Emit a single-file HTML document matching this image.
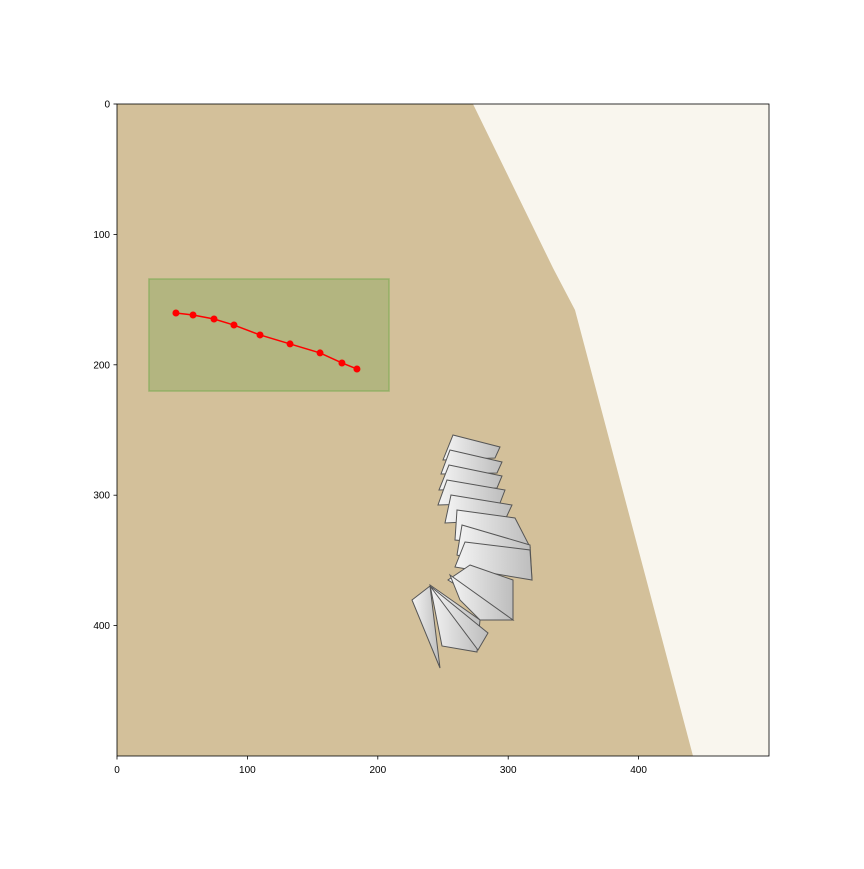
<!DOCTYPE html>
<html><head><meta charset="utf-8"><style>
body{margin:0;background:#fff;}
text{font-family:"Liberation Sans",sans-serif;font-size:10px;fill:#000}
</style></head><body>
<svg id="chart" width="864" height="864">
<defs><linearGradient id="pg" x1="0" x2="1"><stop offset="0" stop-color="#f4f4f4"/><stop offset="1" stop-color="#bdbdbd"/></linearGradient></defs>
<rect x="117" y="104" width="652" height="652" fill="#d3c09a"/>
<polygon fill="#f9f6ee" points="473,104 769,104 769,756 693,756 575,310 553,268"/>
<g id="paper" fill="url(#pg)" stroke="#555" stroke-width="1">
<polygon points="453,435 500,447 495,458 443,460"/>
<polygon points="450,450 502,462 497,473 441,474"/>
<polygon points="449,465 502,476 497,488 439,490"/>
<polygon points="447,480 505,490 500,503 438,505"/>
<polygon points="451,495 512,505 505,520 445,523"/>
<polygon points="457,510 515,518 530,547 455,540"/>
<polygon points="462,525 530,545 532,580 457,555"/>
<polygon points="465,542 530,550 532,580 455,567"/>
<polygon points="470,565 513,580 513,620 448,580"/>
<polygon points="450,575 513,620 480,620 460,600"/>
<polygon points="430,585 480,620 477,652 442,646"/>
<polygon points="412,600 430,586 440,668"/>
<polygon points="430,586 488,633 478,650"/>
</g>
<g id="overlay"></g>
<g id="axes"></g>
<rect x="117" y="104" width="652" height="652" fill="none" stroke="#000" stroke-width="0.8"/>
</svg>
<script>
const xs=[45.2,58.3,74.4,89.7,109.7,132.7,155.7,172.5,184.0];
const ys=[160.3,161.8,164.9,169.5,177.1,184.0,190.9,198.6,203.2];
const boxX=[24.5,208.6];
const boxY=[134.2,220.1];
const xTicks=[0,100,200,300,400];
const yTicks=[0,100,200,300,400];
const NS="http://www.w3.org/2000/svg";
const X=v=>117+v*652/500, Y=v=>104+v*652/500;
const ov=document.getElementById('overlay'), ax=document.getElementById('axes');
function mk(t,a,p){const e=document.createElementNS(NS,t);for(const k in a)e.setAttribute(k,a[k]);p.appendChild(e);return e;}
let r=mk('rect',{x:X(boxX[0]),y:Y(boxY[0]),width:X(boxX[1])-X(boxX[0]),height:Y(boxY[1])-Y(boxY[0]),fill:'rgba(120,160,80,0.35)',stroke:'rgba(120,170,80,0.6)','stroke-width':1.5},ov);


let pl=mk('polyline',{points:xs.map((x,i)=>X(x)+','+Y(ys[i])).join(' '),fill:'none',stroke:'#ff0000','stroke-width':1.5},ov);


xs.forEach((x,i)=>{const c=mk('circle',{cx:X(x),cy:Y(ys[i]),r:3.5,fill:'#ff0000'},ov);

});
xTicks.forEach(t=>{const l=mk('line',{x1:X(t),x2:X(t),y1:756,y2:759.5,stroke:'#000','stroke-width':0.8},ax);


const tx=mk('text',{x:X(t),y:773,'text-anchor':'middle'},ax);tx.textContent=t;

});
yTicks.forEach(t=>{const l=mk('line',{x1:113.5,x2:117,y1:Y(t),y2:Y(t),stroke:'#000','stroke-width':0.8},ax);


const tx=mk('text',{x:110,y:Y(t)+3.5,'text-anchor':'end'},ax);tx.textContent=t;

});
</script>
</body></html>
